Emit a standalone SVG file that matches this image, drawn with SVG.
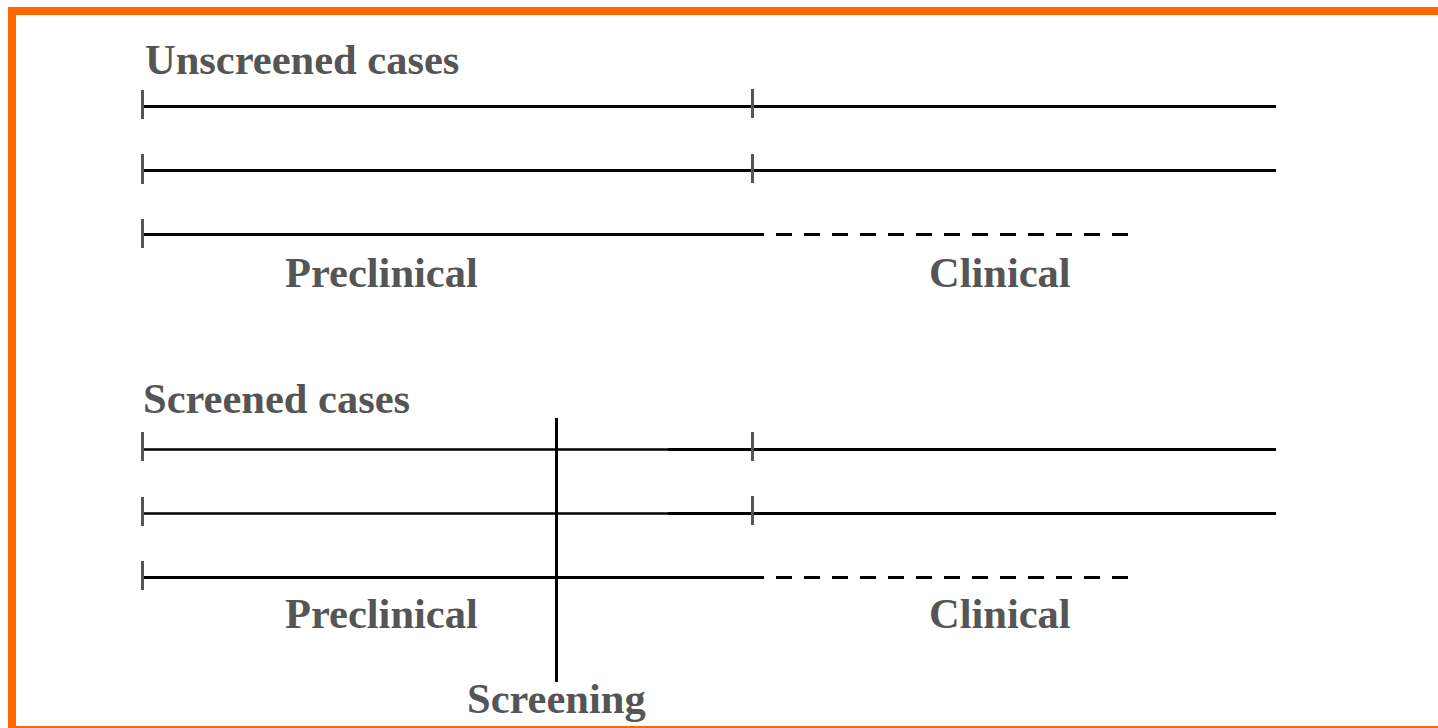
<svg xmlns="http://www.w3.org/2000/svg" width="1438" height="728" viewBox="0 0 1438 728">
<style>
.t{font-family:"Liberation Serif","Times New Roman",serif;font-weight:bold;font-size:42.5px;fill:#555555}
.ln{stroke:#000;stroke-width:3;fill:none}
.lnt{stroke:#000;stroke-width:2.6;fill:none}
.tk{stroke:#555;stroke-width:3;fill:none}
.ds{stroke:#000;stroke-width:3;fill:none;stroke-dasharray:16 12}
</style>
<rect x="0" y="0" width="1438" height="728" fill="#fff"/>
<rect x="12" y="11" width="1440" height="730" fill="none" stroke="#ff6600" stroke-width="8"/>
<line x1="8" y1="727" x2="1438" y2="727" stroke="#ff6600" stroke-width="2"/>
<g id="labels">
<text class="t" x="145" y="74">Unscreened cases</text>
<text class="t" x="285" y="287">Preclinical</text>
<text class="t" x="929" y="287">Clinical</text>
<text class="t" x="143" y="413">Screened cases</text>
<text class="t" x="285" y="628">Preclinical</text>
<text class="t" x="929" y="628">Clinical</text>
<text class="t" x="467" y="713">Screening</text>
</g>
<g id="connectors">
<line class="ln" x1="142" y1="106.5" x2="1276" y2="106.5"/>
<line class="ln" x1="142" y1="170.5" x2="1276" y2="170.5"/>
<line class="ln" x1="142" y1="234.5" x2="764" y2="234.5"/>
<line class="ds" x1="776" y1="234.5" x2="1128" y2="234.5"/>
<line class="tk" x1="142.5" y1="90" x2="142.5" y2="119"/>
<line class="tk" x1="752.5" y1="89" x2="752.5" y2="118"/>
<line class="tk" x1="142.5" y1="154" x2="142.5" y2="184"/>
<line class="tk" x1="752.5" y1="154" x2="752.5" y2="183"/>
<line class="tk" x1="142.5" y1="219" x2="142.5" y2="248"/>

<line class="lnt" x1="142" y1="449.5" x2="668" y2="449.5"/>
<line class="ln" x1="668" y1="449.5" x2="1276" y2="449.5"/>
<line class="lnt" x1="142" y1="513.5" x2="668" y2="513.5"/>
<line class="ln" x1="668" y1="513.5" x2="1276" y2="513.5"/>
<line class="ln" x1="142" y1="577.5" x2="764" y2="577.5"/>
<line class="ds" x1="776" y1="577.5" x2="1128" y2="577.5"/>
<line class="tk" x1="142.5" y1="432" x2="142.5" y2="461"/>
<line class="tk" x1="752.5" y1="432" x2="752.5" y2="461"/>
<line class="tk" x1="142.5" y1="497" x2="142.5" y2="526"/>
<line class="tk" x1="752.5" y1="496" x2="752.5" y2="525"/>
<line class="tk" x1="142.5" y1="561" x2="142.5" y2="590"/>
</g>
<g id="screening">
<line x1="556.5" y1="418" x2="556.5" y2="682" stroke="#000" stroke-width="3"/>
</g>
</svg>
